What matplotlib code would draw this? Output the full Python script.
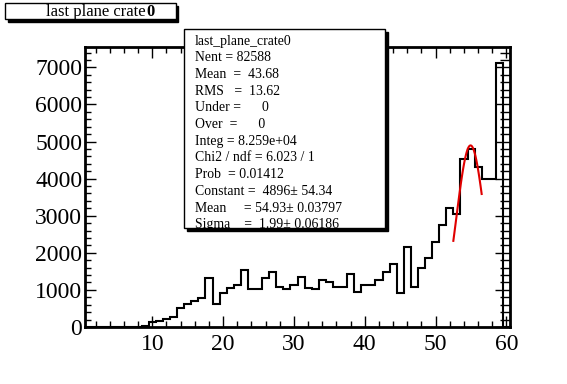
import numpy as np
import matplotlib.pyplot as plt
from matplotlib.patches import Rectangle
from matplotlib.ticker import MultipleLocator

plt.rcParams['font.family'] = ['Liberation Serif', 'DejaVu Serif']

# histogram contents, bins 1..60 (bin width 1, range 0.5-60.5)
counts = [0, 0, 0, 0, 0, 0, 0, 0, 30, 125,
          155, 215, 270, 500, 625, 705, 790, 1315, 610, 930,
          1060, 1126, 1530, 1036, 1036, 1315, 1486, 1080, 1036, 1135,
          1350, 1063, 1036, 1280, 1225, 1090, 1090, 1440, 955, 1145,
          1145, 1260, 1495, 1694, 919, 2144, 1081, 1604, 1874, 2279,
          2748, 3198, 3045, 4532, 4802, 4306, 3991, 3991, 7117, 0]
edges = np.arange(0.5, 61.0, 1.0)

# gaussian fit
fit_const = 4896
fit_mean = 54.93
fit_sigma = 1.99
fit_range = (52.5, 56.5)

stats_lines = [
    "last_plane_crate0",
    "Nent = 82588",
    "Mean  =  43.68",
    "RMS   =  13.62",
    "Under =      0",
    "Over  =      0",
    "Integ = 8.259e+04",
    "Chi2 / ndf = 6.023 / 1",
    "Prob  = 0.01412",
    "Constant =  4896\u00b1 54.34",
    "Mean     = 54.93\u00b1 0.03797",
    "Sigma    =  1.99\u00b1 0.06186",
]

W, H = 567, 384
fig = plt.figure(figsize=(W / 100, H / 100), dpi=100)
ax = fig.add_axes([85 / W, 1 - 327 / H, 425 / W, 280 / H])

ax.stairs(counts, edges, color='black', linewidth=1.5, baseline=0)
xf = np.linspace(fit_range[0], fit_range[1], 100)
yf = fit_const * np.exp(-0.5 * ((xf - fit_mean) / fit_sigma) ** 2)
ax.plot(xf, yf, color='#e00000', linewidth=1.5)

ax.set_xlim(0.5, 60.5)
ax.set_ylim(0, 7550)
ax.xaxis.set_major_locator(MultipleLocator(10))
ax.xaxis.set_minor_locator(MultipleLocator(2))
ax.yaxis.set_major_locator(MultipleLocator(1000))
ax.yaxis.set_minor_locator(MultipleLocator(200))
ax.tick_params(which='both', direction='in', top=True, right=False,
               labelsize=17, width=1)
ax.tick_params(which='major', length=8)
ax.tick_params(which='minor', length=4)
ax.tick_params(axis='y', which='major', pad=2)
ax.tick_params(axis='x', which='major', pad=5)
for s in ax.spines.values():
    s.set_linewidth(2)

# right-hand ticks are longer in the original
ax2 = ax.twinx()
ax2.set_ylim(ax.get_ylim())
ax2.yaxis.set_major_locator(MultipleLocator(1000))
ax2.yaxis.set_minor_locator(MultipleLocator(200))
ax2.tick_params(which='both', direction='in', labelright=False, width=1)
ax2.tick_params(which='major', length=11)
ax2.tick_params(which='minor', length=7)
for s in ax2.spines.values():
    s.set_visible(False)


def fig_box(x0, y0, x1, y1, shadow):
    # pixel coords from top-left
    fig.patches.append(Rectangle((x0 / W + shadow / W, 1 - y1 / H - shadow / H),
                                 (x1 - x0) / W, (y1 - y0) / H,
                                 transform=fig.transFigure, facecolor='black',
                                 edgecolor='black', zorder=5))
    fig.patches.append(Rectangle((x0 / W, 1 - y1 / H), (x1 - x0) / W, (y1 - y0) / H,
                                 transform=fig.transFigure, facecolor='white',
                                 edgecolor='black', linewidth=1, zorder=6))


# title box
fig_box(5, 3, 176, 19, 2.5)
fig.text(146 / W, 1 - 12 / H, "last plane crate", ha='right', va='center',
         fontsize=12, zorder=7)
fig.text(146 / W, 1 - 12 / H, "0", ha='left', va='center', fontsize=12,
         fontweight='bold', zorder=7)

# stats box
fig_box(184, 29, 385, 228, 3)
for i, line in enumerate(stats_lines):
    fig.text(195 / W, 1 - (41 + i * 16.7) / H, line, ha='left', va='center',
             fontsize=9.9, zorder=7)

fig.savefig('out.png', dpi=100)
